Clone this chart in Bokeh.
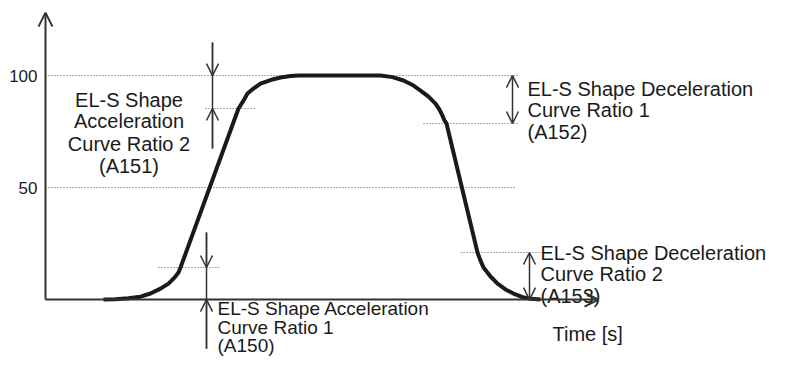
from bokeh.plotting import figure
from bokeh.models import Range1d, Arrow, OpenHead
from bokeh.core.properties import value
from bokeh.embed import file_html
from bokeh.resources import INLINE

# ---- data (time in arbitrary units, speed in %) ----
curve_t = [58, 70, 83, 95, 105, 115, 123, 129, 133, 135,
           193, 198, 202, 208, 215, 225, 235, 245, 253,
           335, 347, 358, 367, 375, 383, 390, 394, 397, 399, 401,
           432, 435, 438, 445, 452, 460, 468, 477, 485, 495]
curve_v = [0, 0.1, 0.6, 1.3, 2.7, 4.9, 7.1, 9.8, 12.1, 14.3,
           85.3, 88.8, 92.0, 94.2, 96.4, 98.0, 99.1, 99.8, 100,
           100, 99.3, 97.8, 95.8, 93.3, 90.6, 87.5, 84.8, 82.1, 79.9, 78.6,
           21.0, 17.4, 14.3, 10.3, 7.1, 4.5, 2.7, 1.1, 0.4, 0]

tick_values = [100, 50]
tick_labels = ["100", "50"]

# ratio levels (speed %)
acc1_level = 14.3   # A150
acc2_level = 85.3   # A151
dec1_level = 78.6   # A152
dec2_level = 21.0   # A153

label_a151 = ["EL-S Shape", "Acceleration", "Curve Ratio 2", "(A151)"]
label_a150 = ["EL-S Shape Acceleration", "Curve Ratio 1", "(A150)"]
label_a152 = ["EL-S Shape Deceleration", "Curve Ratio 1", "(A152)"]
label_a153 = ["EL-S Shape Deceleration", "Curve Ratio 2", "(A153)"]
x_label = "Time [s]"

FONT = value("Liberation Sans")
INK = "#1a1a1a"
AX = "#333333"
DOT = "#555555"

p = figure(width=771, height=360, output_backend="svg", toolbar_location=None,
           x_axis_location=None, y_axis_location=None, min_border=0,
           x_range=Range1d(-45, 726), y_range=Range1d(-27.2, 133.5))
p.grid.visible = False
p.outline_line_color = None
p.background_fill_color = "white"
p.border_fill_color = "white"

# dotted reference lines
p.segment(x0=[0, 0], y0=tick_values, x1=[472, 470], y1=tick_values,
          line_color=DOT, line_width=1, line_dash="1 2")
p.segment(x0=[160, 113, 378, 415], y0=[acc2_level, acc1_level, dec1_level, dec2_level],
          x1=[210, 175, 472, 500], y1=[acc2_level, acc1_level, dec1_level, dec2_level],
          line_color=DOT, line_width=1, line_dash="1 2")

# axes with open arrow heads
p.add_layout(Arrow(x_start=0, y_start=0, x_end=0, y_end=128.1, line_color=AX, line_width=2,
                   end=OpenHead(size=14, line_color=AX, line_width=2)))
p.add_layout(Arrow(x_start=0, y_start=0, x_end=553, y_end=0, line_color=AX, line_width=2,
                   end=OpenHead(size=14, line_color=AX, line_width=2)))

# speed curve
p.line(curve_t, curve_v, line_color=INK, line_width=4, line_join="round", line_cap="butt")

# A151 dimension (arrows outside)
p.segment(x0=[167], y0=[114.7], x1=[167], y1=[67.4], line_color=AX, line_width=1.5)
p.add_layout(Arrow(x_start=167, y_start=114.7, x_end=167, y_end=100, line_color=AX, line_width=1.5,
                   end=OpenHead(size=12, line_color=AX, line_width=1.5)))
p.add_layout(Arrow(x_start=167, y_start=67.4, x_end=167, y_end=acc2_level, line_color=AX, line_width=1.5,
                   end=OpenHead(size=12, line_color=AX, line_width=1.5)))

# A150 dimension (arrows outside)
p.segment(x0=[161], y0=[29.9], x1=[161], y1=[-21.9], line_color=AX, line_width=1.5)
p.add_layout(Arrow(x_start=161, y_start=29.9, x_end=161, y_end=acc1_level, line_color=AX, line_width=1.5,
                   end=OpenHead(size=12, line_color=AX, line_width=1.5)))
p.add_layout(Arrow(x_start=161, y_start=-21.9, x_end=161, y_end=0, line_color=AX, line_width=1.5,
                   end=OpenHead(size=12, line_color=AX, line_width=1.5)))

# A152 / A153 dimensions (double headed)
p.add_layout(Arrow(x_start=467, y_start=dec1_level, x_end=467, y_end=100, line_color=AX, line_width=1.5,
                   start=OpenHead(size=12, line_color=AX, line_width=1.5),
                   end=OpenHead(size=12, line_color=AX, line_width=1.5)))
p.add_layout(Arrow(x_start=484, y_start=0, x_end=484, y_end=dec2_level, line_color=AX, line_width=1.5,
                   start=OpenHead(size=12, line_color=AX, line_width=1.5),
                   end=OpenHead(size=12, line_color=AX, line_width=1.5)))

# tick labels
p.text(x=[-8, -8], y=tick_values, text=tick_labels, text_font=FONT, text_font_size="17px",
       text_align="right", text_baseline="middle", text_color=INK)

def block(x, ys, lines, align, size="20px"):
    p.text(x=[x] * len(lines), y=ys, text=lines, text_font=FONT, text_font_size=size,
           text_align=align, text_baseline="alphabetic", text_color=INK)

block(83.5, [89.3, 79.5, 69.6, 59.8], label_a151, "center")
block(172, [-4.0, -12.5, -20.5], label_a150, "left", "19px")
block(482, [94.2, 84.4, 74.6], label_a152, "left")
block(495, [21.0, 11.6, 1.8], label_a153, "left")
p.text(x=[507], y=[-15.2], text=[x_label], text_font=FONT, text_font_size="20px",
       text_align="left", text_baseline="alphabetic", text_color=INK)

open("out.html", "w").write(file_html(p, INLINE))
